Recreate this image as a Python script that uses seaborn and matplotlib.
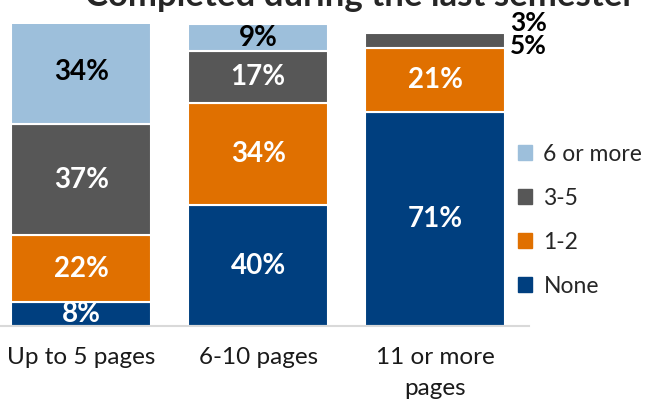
import pandas as pd
import matplotlib.pyplot as plt
import seaborn as sns

# stacked shares (%) by paper length
sizes = ["Up to 5 pages", "6-10 pages", "11 or more\npages"]
none_pct = [8, 40, 71]
one_two_pct = [22, 34, 21]
three_five_pct = [37, 17, 5]
six_more_pct = [34, 9, 3]

series = ["None", "1-2", "3-5", "6 or more"]
values = [none_pct, one_two_pct, three_five_pct, six_more_pct]
colors = ["#003F7F", "#E07000", "#575757", "#9DBFDB"]
label_colors = ["white", "white", "white", "black"]

sns.set_theme(style="white")
plt.rcParams["font.family"] = ["Lato", "DejaVu Sans"]

fig = plt.figure(figsize=(6.48, 4.04), dpi=100)
ax = fig.add_axes([0, 0.193, 0.816, 0.7475])

bottom = [0, 0, 0]
handles = []
for name, vals, col, lcol in zip(series, values, colors, label_colors):
    df = pd.DataFrame({"size": sizes, "pct": vals})
    n_before = len(ax.patches)
    sns.barplot(data=df, x="size", y="pct", color=col, width=0.79,
                bottom=bottom, edgecolor="white", linewidth=1.5,
                saturation=1, ax=ax)
    bars = ax.patches[n_before:]
    handles.append(plt.Rectangle((0, 0), 1, 1, color=col, label=name))
    for i, (b, v) in enumerate(zip(bars, vals)):
        mid = bottom[i] + v / 2
        if i == 2 and name in ("3-5", "6 or more"):
            # thin slices of the last bar are labelled outside
            if name == "6 or more":
                b.set_alpha(0)
                y = mid + 2.0
            else:
                y = mid - 1.8
            ax.text(b.get_x() + b.get_width() + 0.03, y, f"{v}%", ha="left",
                    va="center", fontsize=19, fontweight="bold", color="black",
                    clip_on=False)
        else:
            ax.text(b.get_x() + b.get_width() / 2, mid, f"{v}%", ha="center",
                    va="center", fontsize=20, fontweight="bold", color=lcol)
    bottom = [a + v for a, v in zip(bottom, vals)]

ax.set_xlim(-0.46, 2.53)
ax.set_ylim(0, 100)
ax.set_xlabel("")
ax.set_ylabel("")
ax.set_yticks([])
ax.tick_params(axis="x", length=0, pad=15, labelsize=17.5, colors="#1a1a1a")
for t in ax.get_xticklabels():
    t.set_linespacing(1.6)
for s in ["top", "left", "right"]:
    ax.spines[s].set_visible(False)
ax.spines["bottom"].set_color("#D9D9D9")
ax.spines["bottom"].set_linewidth(1.5)

fig.legend(handles=handles[::-1], loc="center left",
           bbox_to_anchor=(0.768, 0.455), frameon=False, fontsize=16.5,
           handlelength=0.6, handleheight=0.6, handletextpad=0.5,
           labelspacing=1.0)

fig.text(360 / 648, 1 - 6 / 404, "Completed during the last semester",
         ha="center", va="baseline", fontsize=25, fontweight="bold")

fig.savefig("out.png", dpi=100)
